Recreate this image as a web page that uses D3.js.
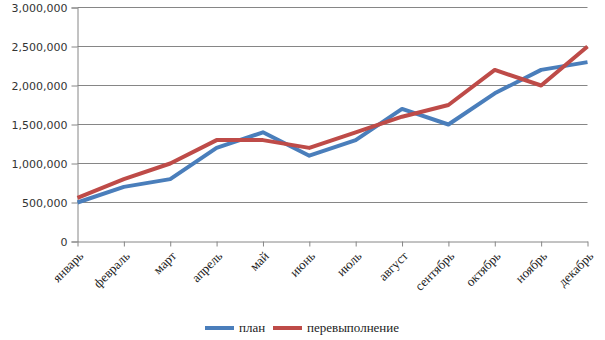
<!DOCTYPE html>
<html>
<head>
<meta charset="utf-8">
<script src="https://cdn.jsdelivr.net/npm/d3@7"></script>
<style>
  html, body { margin: 0; padding: 0; background: #fff; }
  svg { display: block; }
</style>
</head>
<body>
<svg id="chart" width="605" height="340"></svg>
<script>
// Monthly figures: plan vs. over-fulfilment
const months = ["январь", "февраль", "март", "апрель", "май", "июнь",
                "июль", "август", "сентябрь", "октябрь", "ноябрь", "декабрь"];
const plan = [500000, 700000, 800000, 1200000, 1400000, 1100000,
              1300000, 1700000, 1500000, 1900000, 2200000, 2300000];
const overfulfilment = [560000, 800000, 1000000, 1300000, 1300000, 1200000,
                        1400000, 1600000, 1750000, 2200000, 2000000, 2500000];
const yTicks = [0, 500000, 1000000, 1500000, 2000000, 2500000, 3000000];
const seriesNames = ["план", "перевыполнение"];
const seriesColors = ["#4a7ebb", "#be4b48"];

const svg = d3.select("#chart");
const plotLeft = 77.5, plotRight = 587.5, plotTop = 7.5, plotBottom = 241.5;

const x = d3.scalePoint().domain(months).range([plotLeft, plotRight]);
const y = d3.scaleLinear().domain([0, 3000000]).range([plotBottom, plotTop]);

const fmt = d3.format(",");

// horizontal gridlines
svg.append("g")
  .selectAll("line")
  .data(yTicks.slice(1))
  .join("line")
  .attr("x1", plotLeft).attr("x2", plotRight)
  .attr("y1", d => Math.floor(y(d)) + 0.5).attr("y2", d => Math.floor(y(d)) + 0.5)
  .attr("stroke", "#868686").attr("stroke-width", 1);

// y axis
const yAxis = svg.append("g")
  .attr("transform", `translate(${plotLeft},0)`)
  .call(d3.axisLeft(y).tickValues(yTicks).tickFormat(fmt).tickSize(6).tickPadding(4));
yAxis.select(".domain").attr("stroke", "#868686");
yAxis.selectAll(".tick line").attr("stroke", "#868686");
yAxis.selectAll("text")
  .attr("font-family", "DejaVu Sans, Verdana, sans-serif")
  .attr("font-size", 11).attr("fill", "#333");

// x axis
const xAxis = svg.append("g")
  .attr("transform", `translate(0,${plotBottom})`)
  .call(d3.axisBottom(x).tickSize(5).tickSizeOuter(0));
xAxis.select(".domain").attr("stroke", "#868686");
xAxis.selectAll(".tick line").attr("stroke", "#868686");
xAxis.selectAll("text")
  .attr("font-family", "Liberation Serif, Times New Roman, serif")
  .attr("font-size", 13).attr("fill", "#222")
  .attr("text-anchor", "end")
  .attr("dy", "0.35em")
  .attr("transform", "translate(3,12) rotate(-45)")
  .attr("y", 0).attr("x", 0);

// series lines
const line = d3.line()
  .x((d, i) => x(months[i]))
  .y(d => y(d));

[plan, overfulfilment].forEach((vals, k) => {
  svg.append("path")
    .datum(vals)
    .attr("fill", "none")
    .attr("stroke", seriesColors[k])
    .attr("stroke-width", 4)
    .attr("stroke-linejoin", "round")
    .attr("d", line);
});

// legend
const legend = svg.append("g")
  .attr("font-family", "Liberation Serif, Times New Roman, serif")
  .attr("font-size", 13).attr("fill", "#222");
const legendX = [205, 273];
seriesNames.forEach((name, k) => {
  legend.append("line")
    .attr("x1", legendX[k]).attr("x2", legendX[k] + 29)
    .attr("y1", 328).attr("y2", 328)
    .attr("stroke", seriesColors[k]).attr("stroke-width", 4);
  legend.append("text")
    .attr("x", legendX[k] + 34).attr("y", 332)
    .text(name);
});
</script>
</body>
</html>
